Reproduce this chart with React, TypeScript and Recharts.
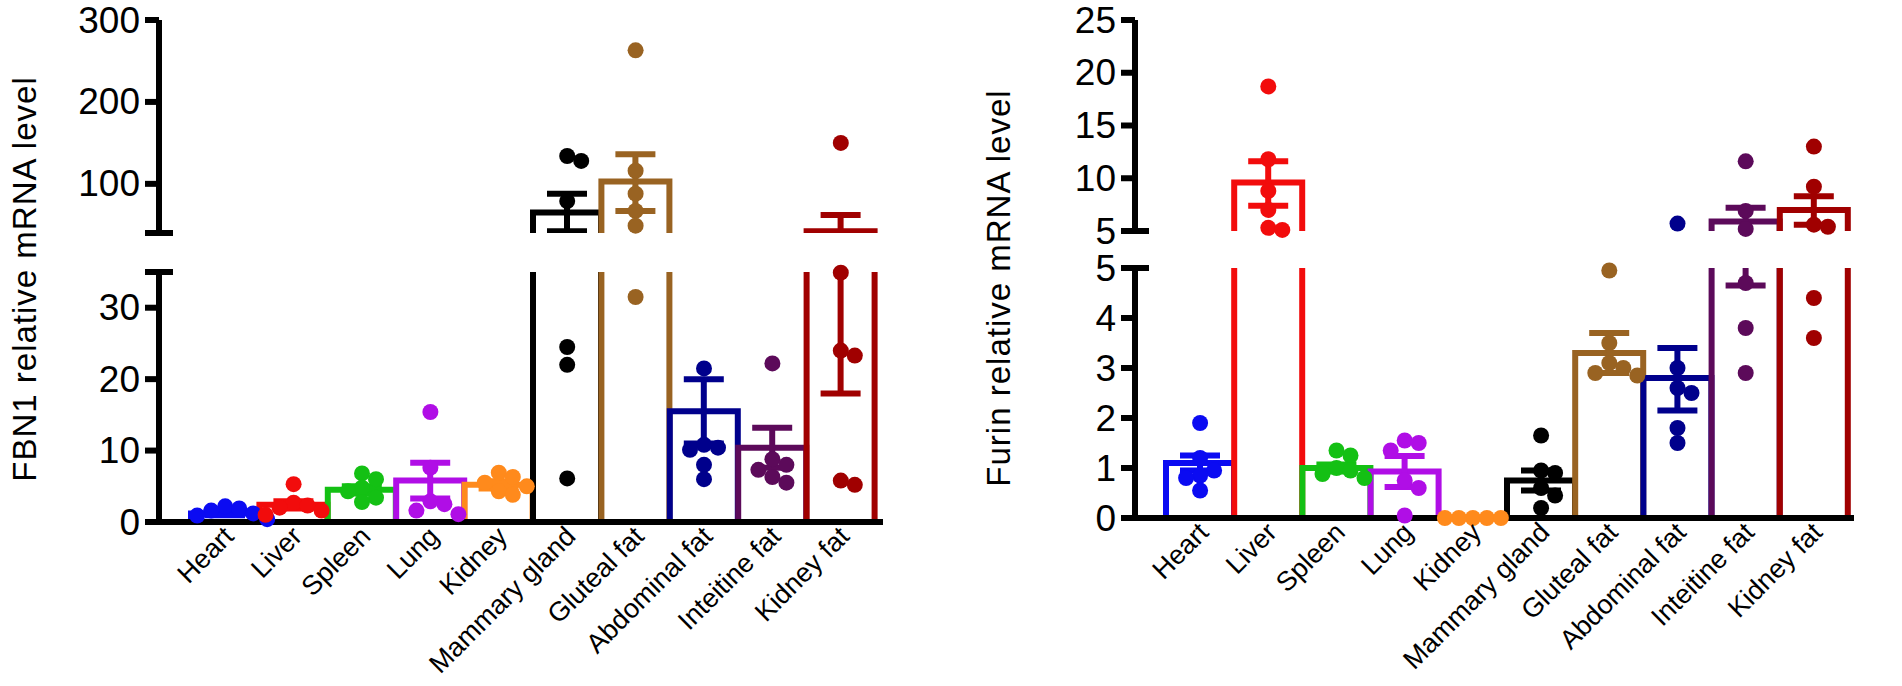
import React from 'react';
import { ComposedChart, Bar, Scatter, XAxis, YAxis } from 'recharts';

// ---------------- data ----------------
const tissues = ['Heart', 'Liver', 'Spleen', 'Lung', 'Kidney', 'Mammary gland', 'Gluteal fat', 'Abdominal fat', 'Inteitine fat', 'Kidney fat'];
const tissueColors = ['#0b0bf2', '#f20c0c', '#14c014', '#b00ee6', '#ff8a1c', '#000000', '#996322', '#00008c', '#5c0a5a', '#a00000'];

const fbn1Mean = [1.2, 2.4, 4.5, 5.8, 5.2, 65, 103, 15.5, 10.4, 42];
const fbn1Low = [0.95, 1.9, 4.0, 3.3, 4.7, 42, 67, 11.0, 7.6, 18];
const fbn1High = [1.45, 2.9, 5.0, 8.3, 5.7, 88, 136, 20.0, 13.2, 62];
const fbn1Dots = [
  [2.2, 1.9, 1.6, 1.2, 0.9, 0.4],
  [5.3, 2.7, 2.3, 2.0, 1.6, 1.0],
  [6.8, 6.0, 4.8, 4.3, 3.4, 2.8],
  [15.4, 7.6, 2.9, 2.5, 1.6, 1.1],
  [6.9, 6.3, 5.5, 5.0, 4.3, 3.8],
  [134, 128, 79, 24.5, 22, 6.1],
  [263, 116, 88, 67, 49, 31.5],
  [21.5, 10.8, 10.4, 10.1, 8.0, 6.0],
  [22.2, 8.8, 8.0, 7.3, 6.3, 5.5],
  [150, 34.9, 24, 23.3, 5.8, 5.2],
];

const furinMean = [1.1, 9.6, 1.0, 0.93, 0, 0.75, 3.3, 2.8, 5.9, 7.0];
const furinLow = [0.95, 7.4, 0.93, 0.62, 0, 0.55, 2.9, 2.15, 4.65, 5.6];
const furinHigh = [1.25, 11.6, 1.07, 1.24, 0, 0.95, 3.7, 3.4, 7.2, 8.3];
const furinDots = [
  [1.9, 1.2, 0.95, 0.85, 0.8, 0.55],
  [18.7, 11.8, 8.8, 7.0, 5.3, 5.1],
  [1.35, 1.25, 1.0, 0.95, 0.88, 0.8],
  [1.55, 1.5, 1.35, 0.75, 0.6, 0.05],
  [0, 0, 0, 0, 0],
  [1.65, 0.95, 0.9, 0.6, 0.45, 0.2],
  [4.95, 3.5, 3.1, 3.0, 2.9, 2.85],
  [5.7, 3.0, 2.6, 2.5, 1.8, 1.5],
  [11.6, 6.9, 5.2, 4.7, 3.8, 2.9],
  [13.0, 9.2, 5.6, 5.4, 4.4, 3.6],
];

const fbn1TopTicks = [40, 100, 200, 300];
const fbn1BottomTicks = [0, 10, 20, 30, 35];
const furinTopTicks = [5, 10, 15, 20, 25];
const furinBottomTicks = [0, 1, 2, 3, 4, 5];

// ---------------- styling / layout ----------------
const FONT = '"Liberation Sans", Arial, Helvetica, sans-serif';
const LINE_W = 6;
const DOT_R = 8;
const SWARM_STEP = 14;
const SWARM_MIN = 14;
const DOT_SLOTS = [0, 1, 2, 3, 4, 5];
const TOP_H = 250;
const LOW_TOP = 240;
const LOW_H = 686 - LOW_TOP;

type Seg = { min: number; max: number; ticks: number[]; breaks: number[]; noLabel: number[]; plotH: number };

function buildRows(mean: number[], low: number[], high: number[], dots: number[][], top: Seg, bot: Seg) {
  const ppuTop = top.plotH / (top.max - top.min);
  const ppuBot = bot.plotH / (bot.max - bot.min);
  return tissues.map((name, k) => {
    const row: any = { name, k, mean: mean[k], lo: low[k], hi: high[k] };
    const placed: { x: number; y: number; seg: boolean }[] = [];
    DOT_SLOTS.forEach((j) => {
      const v = dots[k][j];
      if (v == null) {
        row['t' + j] = null;
        row['b' + j] = null;
        row['dx' + j] = 0;
        return;
      }
      const inTop = v > top.min;
      const py = inTop ? v * ppuTop : v * ppuBot;
      let dx = 0;
      for (let s = 0; s < 20; s++) {
        const cand = s === 0 ? 0 : (s % 2 ? 1 : -1) * Math.ceil(s / 2) * SWARM_STEP;
        if (placed.every((p) => p.seg !== inTop || Math.hypot(p.x - cand, p.y - py) >= SWARM_MIN)) {
          dx = cand;
          break;
        }
      }
      placed.push({ x: dx, y: py, seg: inTop });
      row['t' + j] = inTop ? v : null;
      row['b' + j] = inTop ? null : v;
      row['dx' + j] = dx;
    });
    return row;
  });
}

const makeBarShape = (segMin: number, segMax: number) => (props: any) => {
  const { x, y, width, height, payload } = props;
  const mean = payload?.mean;
  if (mean == null || !(mean > segMin) || !(height > 0)) return <g />;
  const color = tissueColors[payload.k];
  const bottom = y + height;
  const ppu = height / (mean - segMin);
  const yOf = (v: number) => bottom - (v - segMin) * ppu;
  const plotTop = yOf(segMax);
  const cx = x + width / 2;
  const d =
    mean <= segMax
      ? `M${x},${bottom}V${y}H${x + width}V${bottom}`
      : `M${x},${bottom}V${plotTop - 10}M${x + width},${plotTop - 10}V${bottom}`;
  const eTop = Math.max(yOf(payload.hi), plotTop - 10);
  const eBot = Math.min(yOf(payload.lo), bottom);
  const caps: number[] = [];
  if (payload.hi > segMin && payload.hi <= segMax) caps.push(yOf(payload.hi));
  if (payload.lo > segMin && payload.lo <= segMax) caps.push(yOf(payload.lo));
  return (
    <g>
      <path d={d} fill="none" stroke={color} strokeWidth={LINE_W} strokeLinejoin="miter" />
      {eTop < eBot && <line x1={cx} x2={cx} y1={eTop} y2={eBot} stroke={color} strokeWidth={LINE_W} />}
      {caps.map((cy, i) => (
        <line key={i} x1={cx - 20} x2={cx + 20} y1={cy} y2={cy} stroke={color} strokeWidth={LINE_W} />
      ))}
    </g>
  );
};

const makeDot = (j: number, prefix: string) => (props: any) => {
  const { cx, cy, payload } = props;
  const v = payload ? payload[prefix + j] : null;
  if (v == null || cx == null || cy == null || Number.isNaN(cx) || Number.isNaN(cy)) return <g />;
  return <circle cx={cx + (payload['dx' + j] || 0)} cy={cy} r={DOT_R} fill={tissueColors[payload.k]} />;
};

const makeYTick = (axisX: number, breaks: number[], noLabel: number[]) => (props: any) => {
  const { y, payload } = props;
  const v = payload.value;
  const isBreak = breaks.includes(v);
  return (
    <g>
      <line x1={axisX - 14} x2={isBreak ? axisX + 14 : axisX} y1={y} y2={y} stroke="#000" strokeWidth={LINE_W} />
      {!noLabel.includes(v) && (
        <text x={axisX - 19} y={y} textAnchor="end" dominantBaseline="central" fontSize={37} fontFamily={FONT} fill="#000">
          {v}
        </text>
      )}
    </g>
  );
};

const XTick = (props: any) => {
  const { x, y, payload } = props;
  return (
    <text
      transform={`translate(${x + 10},${y + 16}) rotate(-45)`}
      textAnchor="end"
      fontSize={27}
      fontFamily={FONT}
      fill="#000"
    >
      {payload.value}
    </text>
  );
};

type PanelProps = {
  left: number;
  width: number;
  axisW: number;
  mr: number;
  padL: number;
  padR: number;
  topMargin: number;
  lowPlotTop: number;
  top: Seg;
  bot: Seg;
  rows: any[];
};

function Panel({ left, width, axisW, mr, padL, padR, topMargin, lowPlotTop, top, bot, rows }: PanelProps) {
  const axisLine = { stroke: '#000', strokeWidth: LINE_W };
  const lowMargin = lowPlotTop - LOW_TOP;
  const xAxisH = LOW_H - lowMargin - bot.plotH;
  return (
    <>
      <div style={{ position: 'absolute', left, top: 0 }}>
        <ComposedChart
          width={width}
          height={TOP_H}
          data={rows}
          margin={{ top: topMargin, right: mr, bottom: TOP_H - topMargin - top.plotH, left: 0 }}
          barCategoryGap={0}
        >
          <XAxis dataKey="name" hide padding={{ left: padL, right: padR }} />
          <YAxis
            yAxisId="main"
            width={axisW}
            domain={[top.min, top.max]}
            ticks={top.ticks}
            interval={0}
            allowDataOverflow
            tickLine={false}
            axisLine={axisLine}
            tick={makeYTick(axisW, top.breaks, top.noLabel)}
          />
          <YAxis yAxisId="dots" hide width={0} domain={[top.min, top.max]} />
          <Bar yAxisId="main" dataKey="mean" isAnimationActive={false} shape={makeBarShape(top.min, top.max)} />
          {DOT_SLOTS.map((j) => (
            <Scatter key={'t' + j} yAxisId="dots" dataKey={'t' + j} isAnimationActive={false} shape={makeDot(j, 't')} />
          ))}
        </ComposedChart>
      </div>
      <div style={{ position: 'absolute', left, top: LOW_TOP }}>
        <ComposedChart
          width={width}
          height={LOW_H}
          data={rows}
          margin={{ top: lowMargin, right: mr, bottom: 0, left: 0 }}
          barCategoryGap={0}
        >
          <XAxis
            dataKey="name"
            height={xAxisH}
            padding={{ left: padL, right: padR }}
            axisLine={axisLine}
            tickLine={false}
            tickSize={0}
            tickMargin={0}
            interval={0}
            tick={<XTick />}
          />
          <YAxis
            yAxisId="main"
            width={axisW}
            domain={[bot.min, bot.max]}
            ticks={bot.ticks}
            interval={0}
            allowDataOverflow
            tickLine={false}
            axisLine={axisLine}
            tick={makeYTick(axisW, bot.breaks, bot.noLabel)}
          />
          <YAxis yAxisId="dots" hide width={0} domain={[bot.min, bot.max]} />
          <Bar yAxisId="main" dataKey="mean" isAnimationActive={false} shape={makeBarShape(bot.min, bot.max)} />
          {DOT_SLOTS.map((j) => (
            <Scatter key={'b' + j} yAxisId="dots" dataKey={'b' + j} isAnimationActive={false} shape={makeDot(j, 'b')} />
          ))}
        </ComposedChart>
      </div>
    </>
  );
}

const fbn1Top: Seg = { min: 40, max: 300, ticks: fbn1TopTicks, breaks: [40], noLabel: [40], plotH: 213 };
const fbn1Bot: Seg = { min: 0, max: 35, ticks: fbn1BottomTicks, breaks: [35], noLabel: [35], plotH: 250 };
const furinTop: Seg = { min: 5, max: 25, ticks: furinTopTicks, breaks: [5], noLabel: [], plotH: 211 };
const furinBot: Seg = { min: 0, max: 5, ticks: furinBottomTicks, breaks: [5], noLabel: [], plotH: 250 };

export default function App() {
  const fbn1Rows = buildRows(fbn1Mean, fbn1Low, fbn1High, fbn1Dots, fbn1Top, fbn1Bot);
  const furinRows = buildRows(furinMean, furinLow, furinHigh, furinDots, furinTop, furinBot);
  return (
    <div style={{ position: 'absolute', left: 0, top: 0, width: 1902, height: 686, background: '#fff', fontFamily: FONT }}>
      <Panel
        left={0}
        width={900}
        axisW={159}
        mr={17}
        padL={32}
        padR={8}
        topMargin={20}
        lowPlotTop={272}
        top={fbn1Top}
        bot={fbn1Bot}
        rows={fbn1Rows}
      />
      <Panel
        left={900}
        width={1002}
        axisW={235}
        mr={48}
        padL={31}
        padR={6}
        topMargin={20}
        lowPlotTop={268}
        top={furinTop}
        bot={furinBot}
        rows={furinRows}
      />
      <svg width={1902} height={686} style={{ position: 'absolute', left: 0, top: 0, pointerEvents: 'none' }}>
        <text
          transform="translate(24,279) rotate(-90)"
          textAnchor="middle"
          dominantBaseline="central"
          fontSize={33}
          letterSpacing={1}
          fontFamily={FONT}
          fill="#000"
        >
          FBN1 relative mRNA level
        </text>
        <text
          transform="translate(998,288) rotate(-90)"
          textAnchor="middle"
          dominantBaseline="central"
          fontSize={33}
          letterSpacing={1}
          fontFamily={FONT}
          fill="#000"
        >
          Furin relative mRNA level
        </text>
      </svg>
    </div>
  );
}
